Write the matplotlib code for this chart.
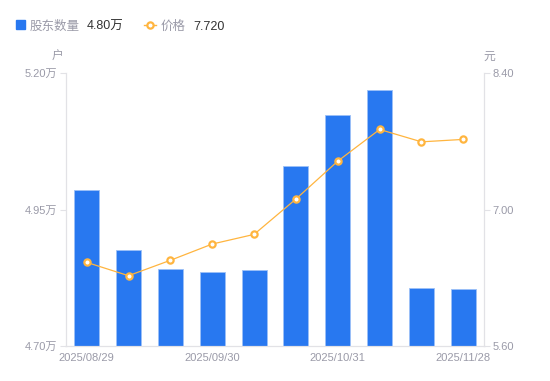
import matplotlib.pyplot as plt
import numpy as np

plt.rcParams['font.family'] = ['Liberation Sans', 'Noto Sans CJK SC']

dates = ['2025/08/29', '2025/09/10', '2025/09/19', '2025/09/30', '2025/10/10',
         '2025/10/20', '2025/10/31', '2025/11/10', '2025/11/20', '2025/11/28']
holders = [4.985, 4.875, 4.841, 4.835, 4.839, 5.030, 5.123, 5.170, 4.806, 4.804]  # 万户
price = [6.458, 6.321, 6.479, 6.646, 6.745, 7.108, 7.497, 7.822, 7.695, 7.720]
left_ticks = [4.70, 4.95, 5.20]
right_ticks = [5.60, 7.00, 8.40]

blue = '#2878F0'
orange = '#FFB53F'
gray = '#9A9AA8'
spine = '#E2E2E6'

fig = plt.figure(figsize=(5.5, 3.81), dpi=100)
ax = fig.add_axes([0.1195, 0.092, 0.761, 0.716])
ax2 = ax.twinx()

x = np.arange(len(dates))
ax.bar(x, holders, width=0.6, color=blue, edgecolor='#9CC0F7', linewidth=0.6, zorder=2)
ax.set_ylim(left_ticks[0], left_ticks[-1])
ax.set_xlim(-0.5, len(dates) - 0.5)
ax.set_yticks(left_ticks)
ax.set_yticklabels([f'{v:.2f}万' for v in left_ticks])
ax.set_xticks(x[::3])
ax.set_xticklabels([dates[i] for i in x[::3]])

ax2.plot(x, price, color=orange, lw=0.9, marker='o', ms=4.5, mfc='white',
         mec=orange, mew=1.6, zorder=3)
ax2.set_ylim(right_ticks[0], right_ticks[-1])
ax2.set_yticks(right_ticks)
ax2.set_yticklabels([f'{v:.2f}' for v in right_ticks])

for a in (ax, ax2):
    for s in a.spines.values():
        s.set_color(spine)
    a.spines['top'].set_visible(False)
    a.tick_params(axis='y', colors=spine, labelcolor=gray, labelsize=8, length=4, width=0.8, pad=2)
    a.tick_params(axis='x', length=0, labelcolor=gray, labelsize=8, pad=5)
ax2.set_zorder(ax.get_zorder() + 1)
ax2.patch.set_visible(False)

fig.text(58 / 550, 1 - 57 / 381, '户', color=gray, fontsize=8.5, ha='center', va='center')
fig.text(489 / 550, 1 - 57 / 381, '元', color=gray, fontsize=8.5, ha='center', va='center')

# legend
ly = 1 - 24.5 / 381
ty = 1 - 27 / 381
fig.patches.append(plt.Rectangle((16 / 550, ly - 4.5 / 381), 9 / 550, 9 / 381,
                                 transform=fig.transFigure, color=blue, figure=fig))
fig.text(30 / 550, ty, '股东数量', color=gray, fontsize=9, va='center')
fig.text(87 / 550, ty, f'{holders[-1]:.2f}万', color='#333333', fontsize=9, va='center')
fig.add_artist(plt.Line2D([144 / 550, 156 / 550], [ly, ly],
                          transform=fig.transFigure, color=orange, lw=1))
fig.add_artist(plt.Line2D([150 / 550], [ly], transform=fig.transFigure,
                          marker='o', ms=4.5, mfc='white', mec=orange, mew=1.6))
fig.text(161 / 550, ty, '价格', color=gray, fontsize=9, va='center')
fig.text(193 / 550, ty, f'{price[-1]:.3f}', color='#333333', fontsize=9, va='center')

fig.savefig('out.png', dpi=100)
